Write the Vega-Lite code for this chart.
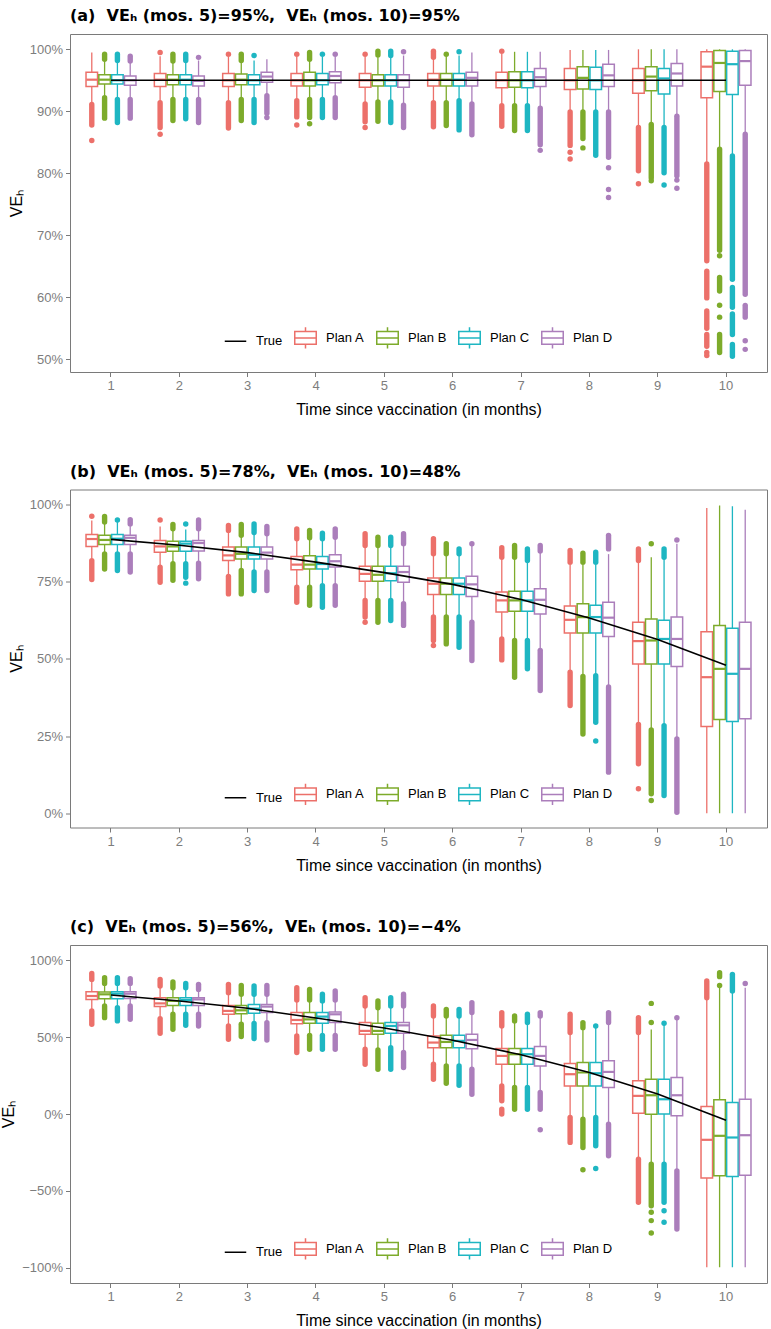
{
"$schema": "https://vega.github.io/schema/vega-lite/v6.json",
"padding": {"left": 0, "top": 7, "right": 5, "bottom": 0},
"spacing": 44.5,
"datasets": {
"boxes": [
{"p":"a","m":1,"s":"Plan A","lo":91.3,"q1":94.0,"md":95.1,"q3":96.3,"hi":99.5},
{"p":"a","m":1,"s":"Plan B","lo":92.3,"q1":94.4,"md":95.1,"q3":95.9,"hi":98.3},
{"p":"a","m":1,"s":"Plan C","lo":92.0,"q1":94.4,"md":95.0,"q3":95.9,"hi":98.1},
{"p":"a","m":1,"s":"Plan D","lo":92.0,"q1":94.2,"md":95.0,"q3":95.7,"hi":98.0},
{"p":"a","m":2,"s":"Plan A","lo":91.5,"q1":94.0,"md":95.1,"q3":96.1,"hi":98.9},
{"p":"a","m":2,"s":"Plan B","lo":92.0,"q1":94.3,"md":95.1,"q3":95.9,"hi":98.0},
{"p":"a","m":2,"s":"Plan C","lo":92.0,"q1":94.3,"md":95.1,"q3":95.9,"hi":98.0},
{"p":"a","m":2,"s":"Plan D","lo":92.0,"q1":94.1,"md":94.9,"q3":95.7,"hi":98.2},
{"p":"a","m":3,"s":"Plan A","lo":91.5,"q1":94.0,"md":95.0,"q3":96.1,"hi":98.8},
{"p":"a","m":3,"s":"Plan B","lo":92.0,"q1":94.3,"md":95.1,"q3":96.0,"hi":98.1},
{"p":"a","m":3,"s":"Plan C","lo":92.0,"q1":94.3,"md":95.0,"q3":95.9,"hi":98.2},
{"p":"a","m":3,"s":"Plan D","lo":92.6,"q1":94.7,"md":95.6,"q3":96.3,"hi":98.4},
{"p":"a","m":4,"s":"Plan A","lo":91.8,"q1":94.1,"md":95.0,"q3":96.1,"hi":98.8},
{"p":"a","m":4,"s":"Plan B","lo":92.0,"q1":94.1,"md":95.0,"q3":96.3,"hi":98.3},
{"p":"a","m":4,"s":"Plan C","lo":92.0,"q1":94.3,"md":95.0,"q3":96.1,"hi":98.8},
{"p":"a","m":4,"s":"Plan D","lo":92.3,"q1":94.6,"md":95.7,"q3":96.4,"hi":98.8},
{"p":"a","m":5,"s":"Plan A","lo":91.4,"q1":93.9,"md":95.0,"q3":96.1,"hi":98.8},
{"p":"a","m":5,"s":"Plan B","lo":91.7,"q1":94.1,"md":95.0,"q3":95.9,"hi":99.0},
{"p":"a","m":5,"s":"Plan C","lo":91.7,"q1":94.1,"md":95.0,"q3":95.9,"hi":99.0},
{"p":"a","m":5,"s":"Plan D","lo":91.1,"q1":93.9,"md":95.0,"q3":95.9,"hi":99.0},
{"p":"a","m":6,"s":"Plan A","lo":91.5,"q1":94.1,"md":95.1,"q3":96.1,"hi":98.6},
{"p":"a","m":6,"s":"Plan B","lo":91.5,"q1":94.1,"md":95.1,"q3":96.1,"hi":98.9},
{"p":"a","m":6,"s":"Plan C","lo":91.8,"q1":94.1,"md":95.1,"q3":96.1,"hi":99.0},
{"p":"a","m":6,"s":"Plan D","lo":91.3,"q1":94.1,"md":95.4,"q3":96.3,"hi":99.5},
{"p":"a","m":7,"s":"Plan A","lo":91.0,"q1":93.8,"md":95.0,"q3":96.3,"hi":99.3},
{"p":"a","m":7,"s":"Plan B","lo":91.0,"q1":93.9,"md":95.0,"q3":96.4,"hi":99.6},
{"p":"a","m":7,"s":"Plan C","lo":91.0,"q1":93.8,"md":95.0,"q3":96.4,"hi":99.6},
{"p":"a","m":7,"s":"Plan D","lo":90.6,"q1":94.0,"md":95.5,"q3":96.9,"hi":99.6},
{"p":"a","m":8,"s":"Plan A","lo":90.0,"q1":93.5,"md":95.0,"q3":96.9,"hi":99.9},
{"p":"a","m":8,"s":"Plan B","lo":90.0,"q1":93.6,"md":95.4,"q3":97.2,"hi":99.9},
{"p":"a","m":8,"s":"Plan C","lo":90.0,"q1":93.5,"md":95.0,"q3":97.1,"hi":99.9},
{"p":"a","m":8,"s":"Plan D","lo":90.0,"q1":94.0,"md":95.8,"q3":97.6,"hi":99.9},
{"p":"a","m":9,"s":"Plan A","lo":87.5,"q1":92.9,"md":95.0,"q3":96.9,"hi":100},
{"p":"a","m":9,"s":"Plan B","lo":88.0,"q1":93.3,"md":95.6,"q3":97.2,"hi":100},
{"p":"a","m":9,"s":"Plan C","lo":87.5,"q1":92.8,"md":95.3,"q3":96.9,"hi":100},
{"p":"a","m":9,"s":"Plan D","lo":89.3,"q1":94.1,"md":96.1,"q3":97.7,"hi":100},
{"p":"a","m":10,"s":"Plan A","lo":81.6,"q1":92.2,"md":97.2,"q3":99.6,"hi":100},
{"p":"a","m":10,"s":"Plan B","lo":84.0,"q1":93.2,"md":97.8,"q3":99.8,"hi":100},
{"p":"a","m":10,"s":"Plan C","lo":82.9,"q1":92.7,"md":97.6,"q3":99.7,"hi":100},
{"p":"a","m":10,"s":"Plan D","lo":86.4,"q1":94.2,"md":98.1,"q3":99.8,"hi":100},
{"p":"b","m":1,"s":"Plan A","lo":82.5,"q1":86.5,"md":88.9,"q3":90.4,"hi":94.9},
{"p":"b","m":1,"s":"Plan B","lo":84.5,"q1":87.1,"md":88.6,"q3":90.1,"hi":93.9},
{"p":"b","m":1,"s":"Plan C","lo":84.5,"q1":87.1,"md":89.0,"q3":90.4,"hi":94.5},
{"p":"b","m":1,"s":"Plan D","lo":84.5,"q1":87.1,"md":89.3,"q3":90.1,"hi":93.5},
{"p":"b","m":2,"s":"Plan A","lo":80.3,"q1":84.6,"md":86.5,"q3":88.4,"hi":93.0},
{"p":"b","m":2,"s":"Plan B","lo":81.4,"q1":84.9,"md":86.5,"q3":88.2,"hi":91.8},
{"p":"b","m":2,"s":"Plan C","lo":81.4,"q1":84.9,"md":87.4,"q3":88.2,"hi":92.0},
{"p":"b","m":2,"s":"Plan D","lo":81.6,"q1":85.0,"md":87.6,"q3":88.4,"hi":91.8},
{"p":"b","m":3,"s":"Plan A","lo":77.3,"q1":81.9,"md":83.6,"q3":86.3,"hi":91.3},
{"p":"b","m":3,"s":"Plan B","lo":79.2,"q1":82.4,"md":84.1,"q3":86.3,"hi":89.7},
{"p":"b","m":3,"s":"Plan C","lo":78.7,"q1":82.4,"md":83.8,"q3":86.3,"hi":90.5},
{"p":"b","m":3,"s":"Plan D","lo":78.7,"q1":82.4,"md":84.5,"q3":86.3,"hi":90.2},
{"p":"b","m":4,"s":"Plan A","lo":73.8,"q1":78.9,"md":80.6,"q3":83.2,"hi":88.6},
{"p":"b","m":4,"s":"Plan B","lo":73.8,"q1":79.2,"md":80.6,"q3":83.5,"hi":88.9},
{"p":"b","m":4,"s":"Plan C","lo":74.3,"q1":79.2,"md":80.8,"q3":83.2,"hi":88.6},
{"p":"b","m":4,"s":"Plan D","lo":74.3,"q1":79.8,"md":81.7,"q3":83.8,"hi":89.1},
{"p":"b","m":5,"s":"Plan A","lo":69.5,"q1":75.2,"md":77.6,"q3":80.1,"hi":86.4},
{"p":"b","m":5,"s":"Plan B","lo":69.5,"q1":75.2,"md":77.3,"q3":80.1,"hi":86.4},
{"p":"b","m":5,"s":"Plan C","lo":69.5,"q1":75.4,"md":77.8,"q3":80.1,"hi":86.4},
{"p":"b","m":5,"s":"Plan D","lo":68.4,"q1":74.9,"md":78.2,"q3":80.1,"hi":87.0},
{"p":"b","m":6,"s":"Plan A","lo":64.1,"q1":70.9,"md":74.4,"q3":76.3,"hi":83.7},
{"p":"b","m":6,"s":"Plan B","lo":64.1,"q1":70.9,"md":74.4,"q3":76.3,"hi":83.7},
{"p":"b","m":6,"s":"Plan C","lo":64.1,"q1":70.9,"md":74.4,"q3":76.3,"hi":83.7},
{"p":"b","m":6,"s":"Plan D","lo":62.4,"q1":70.3,"md":74.2,"q3":76.8,"hi":86.9},
{"p":"b","m":7,"s":"Plan A","lo":57.0,"q1":65.2,"md":69.0,"q3":71.7,"hi":82.6},
{"p":"b","m":7,"s":"Plan B","lo":56.5,"q1":65.5,"md":69.0,"q3":72.0,"hi":82.6},
{"p":"b","m":7,"s":"Plan C","lo":56.5,"q1":65.5,"md":69.0,"q3":72.0,"hi":81.5},
{"p":"b","m":7,"s":"Plan D","lo":53.3,"q1":64.6,"md":69.2,"q3":72.8,"hi":84.5},
{"p":"b","m":8,"s":"Plan A","lo":46.2,"q1":58.4,"md":62.7,"q3":67.2,"hi":81.0},
{"p":"b","m":8,"s":"Plan B","lo":44.8,"q1":58.4,"md":63.6,"q3":67.9,"hi":81.0},
{"p":"b","m":8,"s":"Plan C","lo":45.1,"q1":58.4,"md":63.6,"q3":67.4,"hi":81.0},
{"p":"b","m":8,"s":"Plan D","lo":41.4,"q1":57.3,"md":63.4,"q3":68.4,"hi":84.0},
{"p":"b","m":9,"s":"Plan A","lo":29.3,"q1":48.4,"md":55.8,"q3":61.9,"hi":81.5},
{"p":"b","m":9,"s":"Plan B","lo":27.5,"q1":48.4,"md":56.0,"q3":63.0,"hi":83.0},
{"p":"b","m":9,"s":"Plan C","lo":28.9,"q1":48.4,"md":56.5,"q3":62.6,"hi":82.5},
{"p":"b","m":9,"s":"Plan D","lo":24.6,"q1":47.6,"md":56.5,"q3":63.6,"hi":87.4},
{"p":"b","m":10,"s":"Plan A","lo":0,"q1":28.1,"md":44.1,"q3":58.8,"hi":99.0},
{"p":"b","m":10,"s":"Plan B","lo":0,"q1":30.4,"md":46.8,"q3":60.9,"hi":99.8},
{"p":"b","m":10,"s":"Plan C","lo":0,"q1":29.7,"md":45.2,"q3":60.0,"hi":99.5},
{"p":"b","m":10,"s":"Plan D","lo":0,"q1":30.6,"md":46.8,"q3":61.9,"hi":98.4},
{"p":"c","m":1,"s":"Plan A","lo":68.0,"q1":74.6,"md":76.8,"q3":79.6,"hi":86.5},
{"p":"c","m":1,"s":"Plan B","lo":71.3,"q1":75.0,"md":77.9,"q3":79.4,"hi":84.0},
{"p":"c","m":1,"s":"Plan C","lo":70.2,"q1":75.0,"md":78.3,"q3":79.6,"hi":84.0},
{"p":"c","m":1,"s":"Plan D","lo":71.3,"q1":75.2,"md":78.3,"q3":79.6,"hi":84.0},
{"p":"c","m":2,"s":"Plan A","lo":63.0,"q1":69.9,"md":72.0,"q3":75.7,"hi":82.3},
{"p":"c","m":2,"s":"Plan B","lo":65.9,"q1":70.7,"md":73.6,"q3":75.7,"hi":81.2},
{"p":"c","m":2,"s":"Plan C","lo":65.9,"q1":70.7,"md":74.2,"q3":75.7,"hi":81.2},
{"p":"c","m":2,"s":"Plan D","lo":65.9,"q1":70.7,"md":74.6,"q3":75.7,"hi":80.1},
{"p":"c","m":3,"s":"Plan A","lo":58.3,"q1":64.9,"md":67.1,"q3":70.7,"hi":78.0},
{"p":"c","m":3,"s":"Plan B","lo":59.4,"q1":65.3,"md":67.5,"q3":70.7,"hi":76.9},
{"p":"c","m":3,"s":"Plan C","lo":60.0,"q1":65.5,"md":68.6,"q3":71.3,"hi":76.9},
{"p":"c","m":3,"s":"Plan D","lo":60.5,"q1":66.0,"md":69.9,"q3":71.3,"hi":76.9},
{"p":"c","m":4,"s":"Plan A","lo":51.8,"q1":58.8,"md":61.2,"q3":66.0,"hi":73.2},
{"p":"c","m":4,"s":"Plan B","lo":52.2,"q1":59.0,"md":61.6,"q3":66.0,"hi":73.2},
{"p":"c","m":4,"s":"Plan C","lo":52.2,"q1":59.0,"md":63.4,"q3":66.0,"hi":72.6},
{"p":"c","m":4,"s":"Plan D","lo":52.2,"q1":59.5,"md":64.9,"q3":66.4,"hi":73.2},
{"p":"c","m":5,"s":"Plan A","lo":43.1,"q1":51.9,"md":54.1,"q3":59.5,"hi":69.3},
{"p":"c","m":5,"s":"Plan B","lo":42.7,"q1":51.9,"md":54.1,"q3":59.0,"hi":68.2},
{"p":"c","m":5,"s":"Plan C","lo":44.2,"q1":52.5,"md":57.3,"q3":59.5,"hi":69.3},
{"p":"c","m":5,"s":"Plan D","lo":41.0,"q1":52.5,"md":57.7,"q3":59.5,"hi":69.3},
{"p":"c","m":6,"s":"Plan A","lo":33.4,"q1":43.2,"md":46.5,"q3":50.8,"hi":62.8},
{"p":"c","m":6,"s":"Plan B","lo":32.3,"q1":43.2,"md":46.9,"q3":51.2,"hi":62.8},
{"p":"c","m":6,"s":"Plan C","lo":32.3,"q1":43.2,"md":47.6,"q3":51.2,"hi":62.8},
{"p":"c","m":6,"s":"Plan D","lo":30.1,"q1":42.5,"md":48.2,"q3":51.9,"hi":65.0},
{"p":"c","m":7,"s":"Plan A","lo":19.3,"q1":32.4,"md":37.8,"q3":42.6,"hi":56.3},
{"p":"c","m":7,"s":"Plan B","lo":18.2,"q1":32.4,"md":38.9,"q3":42.6,"hi":59.6},
{"p":"c","m":7,"s":"Plan C","lo":18.2,"q1":32.4,"md":38.9,"q3":42.6,"hi":58.5},
{"p":"c","m":7,"s":"Plan D","lo":15.0,"q1":31.3,"md":37.8,"q3":43.9,"hi":63.8},
{"p":"c","m":8,"s":"Plan A","lo":-1.3,"q1":18.3,"md":25.9,"q3":32.8,"hi":52.0},
{"p":"c","m":8,"s":"Plan B","lo":-2.4,"q1":18.3,"md":27.0,"q3":33.5,"hi":55.2},
{"p":"c","m":8,"s":"Plan C","lo":-1.3,"q1":18.3,"md":26.5,"q3":33.5,"hi":56.3},
{"p":"c","m":8,"s":"Plan D","lo":-5.6,"q1":17.2,"md":27.4,"q3":34.6,"hi":58.5},
{"p":"c","m":9,"s":"Plan A","lo":-28.4,"q1":0.5,"md":11.8,"q3":21.6,"hi":52.0},
{"p":"c","m":9,"s":"Plan B","lo":-31.6,"q1":-0.1,"md":12.2,"q3":22.6,"hi":55.0},
{"p":"c","m":9,"s":"Plan C","lo":-31.6,"q1":0.0,"md":9.6,"q3":22.6,"hi":58.0},
{"p":"c","m":9,"s":"Plan D","lo":-36.0,"q1":-1.2,"md":12.2,"q3":23.7,"hi":61.7},
{"p":"c","m":10,"s":"Plan A","lo":-99.8,"q1":-41.7,"md":-16.8,"q3":4.9,"hi":74.7},
{"p":"c","m":10,"s":"Plan B","lo":-99.8,"q1":-40.2,"md":-14.2,"q3":9.2,"hi":83.0},
{"p":"c","m":10,"s":"Plan C","lo":-99.8,"q1":-40.6,"md":-15.3,"q3":7.5,"hi":79.5},
{"p":"c","m":10,"s":"Plan D","lo":-99.8,"q1":-39.8,"md":-13.8,"q3":9.6,"hi":82.2}
],
"streaks": [
{"p":"a","m":1,"s":"Plan A","y1":91.1,"y2":87.8},
{"p":"a","m":1,"s":"Plan B","y1":99.2,"y2":98.4},{"p":"a","m":1,"s":"Plan B","y1":92.2,"y2":88.9},
{"p":"a","m":1,"s":"Plan C","y1":99.2,"y2":98.2},{"p":"a","m":1,"s":"Plan C","y1":91.9,"y2":88.2},
{"p":"a","m":1,"s":"Plan D","y1":98.9,"y2":98.1},{"p":"a","m":1,"s":"Plan D","y1":91.9,"y2":88.9},
{"p":"a","m":2,"s":"Plan A","y1":91.4,"y2":87.4},
{"p":"a","m":2,"s":"Plan B","y1":99.2,"y2":98.1},{"p":"a","m":2,"s":"Plan B","y1":91.9,"y2":88.5},
{"p":"a","m":2,"s":"Plan C","y1":99.2,"y2":98.2},{"p":"a","m":2,"s":"Plan C","y1":91.9,"y2":88.8},
{"p":"a","m":2,"s":"Plan D","y1":91.9,"y2":88.2},
{"p":"a","m":3,"s":"Plan A","y1":91.4,"y2":87.3},
{"p":"a","m":3,"s":"Plan B","y1":99.2,"y2":98.2},{"p":"a","m":3,"s":"Plan B","y1":91.9,"y2":88.5},
{"p":"a","m":3,"s":"Plan C","y1":91.9,"y2":88.2},
{"p":"a","m":3,"s":"Plan D","y1":92.5,"y2":89.7},
{"p":"a","m":4,"s":"Plan A","y1":91.7,"y2":89.1},
{"p":"a","m":4,"s":"Plan B","y1":99.5,"y2":98.4},{"p":"a","m":4,"s":"Plan B","y1":91.9,"y2":89.0},
{"p":"a","m":4,"s":"Plan C","y1":91.9,"y2":89.0},
{"p":"a","m":4,"s":"Plan D","y1":92.2,"y2":89.0},
{"p":"a","m":5,"s":"Plan A","y1":91.2,"y2":88.3},
{"p":"a","m":5,"s":"Plan B","y1":99.7,"y2":99.1},{"p":"a","m":5,"s":"Plan B","y1":91.5,"y2":88.4},
{"p":"a","m":5,"s":"Plan C","y1":99.7,"y2":99.0},{"p":"a","m":5,"s":"Plan C","y1":91.5,"y2":88.2},
{"p":"a","m":5,"s":"Plan D","y1":91.0,"y2":87.4},
{"p":"a","m":6,"s":"Plan A","y1":99.7,"y2":98.7},{"p":"a","m":6,"s":"Plan A","y1":91.4,"y2":87.5},
{"p":"a","m":6,"s":"Plan B","y1":91.4,"y2":87.7},
{"p":"a","m":6,"s":"Plan C","y1":91.7,"y2":87.0},
{"p":"a","m":6,"s":"Plan D","y1":91.2,"y2":86.2},
{"p":"a","m":7,"s":"Plan A","y1":90.9,"y2":87.6},
{"p":"a","m":7,"s":"Plan B","y1":90.9,"y2":86.9},
{"p":"a","m":7,"s":"Plan C","y1":90.9,"y2":86.9},
{"p":"a","m":7,"s":"Plan D","y1":90.5,"y2":84.6},
{"p":"a","m":8,"s":"Plan A","y1":89.9,"y2":84.5},
{"p":"a","m":8,"s":"Plan B","y1":89.9,"y2":85.6},
{"p":"a","m":8,"s":"Plan C","y1":89.9,"y2":82.9},
{"p":"a","m":8,"s":"Plan D","y1":89.9,"y2":82.6},
{"p":"a","m":9,"s":"Plan A","y1":87.4,"y2":80.4},
{"p":"a","m":9,"s":"Plan B","y1":87.9,"y2":79.3},
{"p":"a","m":9,"s":"Plan C","y1":87.4,"y2":80.1},
{"p":"a","m":9,"s":"Plan D","y1":89.2,"y2":79.6},
{"p":"a","m":10,"s":"Plan A","y1":81.5,"y2":65.9},{"p":"a","m":10,"s":"Plan A","y1":64.2,"y2":59.9},{"p":"a","m":10,"s":"Plan A","y1":57.8,"y2":55.0},{"p":"a","m":10,"s":"Plan A","y1":54.0,"y2":52.1},
{"p":"a","m":10,"s":"Plan B","y1":83.9,"y2":67.6},{"p":"a","m":10,"s":"Plan B","y1":63.2,"y2":61.0},{"p":"a","m":10,"s":"Plan B","y1":54.0,"y2":51.1},
{"p":"a","m":10,"s":"Plan C","y1":82.8,"y2":62.9},{"p":"a","m":10,"s":"Plan C","y1":61.6,"y2":58.4},{"p":"a","m":10,"s":"Plan C","y1":57.3,"y2":54.0},{"p":"a","m":10,"s":"Plan C","y1":52.4,"y2":50.5},
{"p":"a","m":10,"s":"Plan D","y1":86.3,"y2":60.5},{"p":"a","m":10,"s":"Plan D","y1":58.7,"y2":56.8},
{"p":"b","m":1,"s":"Plan A","y1":81.9,"y2":75.8},
{"p":"b","m":1,"s":"Plan B","y1":96.2,"y2":94.4},{"p":"b","m":1,"s":"Plan B","y1":84.1,"y2":79.2},
{"p":"b","m":1,"s":"Plan C","y1":84.1,"y2":78.7},
{"p":"b","m":1,"s":"Plan D","y1":95.2,"y2":93.8},{"p":"b","m":1,"s":"Plan D","y1":84.1,"y2":78.2},
{"p":"b","m":2,"s":"Plan A","y1":79.8,"y2":74.9},
{"p":"b","m":2,"s":"Plan B","y1":93.6,"y2":92.2},{"p":"b","m":2,"s":"Plan B","y1":80.9,"y2":75.5},
{"p":"b","m":2,"s":"Plan C","y1":80.9,"y2":76.5},
{"p":"b","m":2,"s":"Plan D","y1":95.1,"y2":92.2},{"p":"b","m":2,"s":"Plan D","y1":81.1,"y2":76.0},
{"p":"b","m":3,"s":"Plan A","y1":93.3,"y2":91.7},{"p":"b","m":3,"s":"Plan A","y1":76.8,"y2":71.1},
{"p":"b","m":3,"s":"Plan B","y1":93.6,"y2":90.1},{"p":"b","m":3,"s":"Plan B","y1":78.7,"y2":71.1},
{"p":"b","m":3,"s":"Plan C","y1":93.8,"y2":91.0},{"p":"b","m":3,"s":"Plan C","y1":78.2,"y2":72.2},
{"p":"b","m":3,"s":"Plan D","y1":93.0,"y2":90.6},{"p":"b","m":3,"s":"Plan D","y1":78.2,"y2":72.2},
{"p":"b","m":4,"s":"Plan A","y1":92.2,"y2":89.0},{"p":"b","m":4,"s":"Plan A","y1":73.3,"y2":68.4},
{"p":"b","m":4,"s":"Plan B","y1":91.7,"y2":89.3},{"p":"b","m":4,"s":"Plan B","y1":73.3,"y2":67.4},
{"p":"b","m":4,"s":"Plan C","y1":90.8,"y2":89.0},{"p":"b","m":4,"s":"Plan C","y1":73.8,"y2":66.8},
{"p":"b","m":4,"s":"Plan D","y1":92.2,"y2":89.5},{"p":"b","m":4,"s":"Plan D","y1":73.8,"y2":67.4},
{"p":"b","m":5,"s":"Plan A","y1":90.6,"y2":86.8},{"p":"b","m":5,"s":"Plan A","y1":69.0,"y2":63.6},
{"p":"b","m":5,"s":"Plan B","y1":89.5,"y2":86.8},{"p":"b","m":5,"s":"Plan B","y1":69.0,"y2":61.9},
{"p":"b","m":5,"s":"Plan C","y1":89.5,"y2":86.8},{"p":"b","m":5,"s":"Plan C","y1":69.0,"y2":62.5},
{"p":"b","m":5,"s":"Plan D","y1":90.6,"y2":87.4},{"p":"b","m":5,"s":"Plan D","y1":67.9,"y2":60.9},
{"p":"b","m":6,"s":"Plan A","y1":89.0,"y2":84.1},{"p":"b","m":6,"s":"Plan A","y1":63.6,"y2":56.0},
{"p":"b","m":6,"s":"Plan B","y1":87.4,"y2":84.1},{"p":"b","m":6,"s":"Plan B","y1":63.6,"y2":54.9},
{"p":"b","m":6,"s":"Plan C","y1":85.7,"y2":84.1},{"p":"b","m":6,"s":"Plan C","y1":63.6,"y2":53.8},
{"p":"b","m":6,"s":"Plan D","y1":61.9,"y2":49.5},
{"p":"b","m":7,"s":"Plan A","y1":86.1,"y2":83.0},{"p":"b","m":7,"s":"Plan A","y1":56.5,"y2":49.7},
{"p":"b","m":7,"s":"Plan B","y1":86.8,"y2":83.0},{"p":"b","m":7,"s":"Plan B","y1":56.0,"y2":44.1},
{"p":"b","m":7,"s":"Plan C","y1":85.7,"y2":81.9},{"p":"b","m":7,"s":"Plan C","y1":56.0,"y2":46.8},
{"p":"b","m":7,"s":"Plan D","y1":86.8,"y2":85.0},{"p":"b","m":7,"s":"Plan D","y1":52.8,"y2":39.8},
{"p":"b","m":8,"s":"Plan A","y1":85.2,"y2":81.4},{"p":"b","m":8,"s":"Plan A","y1":45.7,"y2":34.9},
{"p":"b","m":8,"s":"Plan B","y1":84.3,"y2":81.4},{"p":"b","m":8,"s":"Plan B","y1":44.3,"y2":25.7},
{"p":"b","m":8,"s":"Plan C","y1":84.6,"y2":81.4},{"p":"b","m":8,"s":"Plan C","y1":44.6,"y2":29.5},
{"p":"b","m":8,"s":"Plan D","y1":90.1,"y2":85.7},{"p":"b","m":8,"s":"Plan D","y1":40.9,"y2":13.3},
{"p":"b","m":9,"s":"Plan A","y1":85.7,"y2":81.9},{"p":"b","m":9,"s":"Plan A","y1":28.8,"y2":16.0},
{"p":"b","m":9,"s":"Plan B","y1":27.0,"y2":6.3},
{"p":"b","m":9,"s":"Plan C","y1":85.7,"y2":83.0},{"p":"b","m":9,"s":"Plan C","y1":28.4,"y2":5.7},
{"p":"b","m":9,"s":"Plan D","y1":24.1,"y2":0.3},
{"p":"c","m":1,"s":"Plan A","y1":91.5,"y2":87.6},{"p":"c","m":1,"s":"Plan A","y1":67.1,"y2":58.4},
{"p":"c","m":1,"s":"Plan B","y1":88.7,"y2":85.0},{"p":"c","m":1,"s":"Plan B","y1":70.3,"y2":62.7},
{"p":"c","m":1,"s":"Plan C","y1":88.7,"y2":85.0},{"p":"c","m":1,"s":"Plan C","y1":69.2,"y2":60.6},
{"p":"c","m":1,"s":"Plan D","y1":88.1,"y2":85.0},{"p":"c","m":1,"s":"Plan D","y1":70.3,"y2":61.6},
{"p":"c","m":2,"s":"Plan A","y1":87.6,"y2":83.3},{"p":"c","m":2,"s":"Plan A","y1":62.1,"y2":52.5},
{"p":"c","m":2,"s":"Plan B","y1":85.9,"y2":82.2},{"p":"c","m":2,"s":"Plan B","y1":64.9,"y2":55.1},
{"p":"c","m":2,"s":"Plan C","y1":85.0,"y2":82.2},{"p":"c","m":2,"s":"Plan C","y1":64.9,"y2":57.7},
{"p":"c","m":2,"s":"Plan D","y1":84.4,"y2":81.1},{"p":"c","m":2,"s":"Plan D","y1":64.9,"y2":57.3},
{"p":"c","m":3,"s":"Plan A","y1":84.4,"y2":79.0},{"p":"c","m":3,"s":"Plan A","y1":57.3,"y2":48.6},
{"p":"c","m":3,"s":"Plan B","y1":83.7,"y2":77.9},{"p":"c","m":3,"s":"Plan B","y1":58.4,"y2":50.4},
{"p":"c","m":3,"s":"Plan C","y1":83.3,"y2":77.9},{"p":"c","m":3,"s":"Plan C","y1":59.0,"y2":49.1},
{"p":"c","m":3,"s":"Plan D","y1":83.7,"y2":77.9},{"p":"c","m":3,"s":"Plan D","y1":59.5,"y2":48.2},
{"p":"c","m":4,"s":"Plan A","y1":82.2,"y2":74.2},{"p":"c","m":4,"s":"Plan A","y1":50.8,"y2":40.0},
{"p":"c","m":4,"s":"Plan B","y1":81.1,"y2":74.2},{"p":"c","m":4,"s":"Plan B","y1":51.2,"y2":42.1},
{"p":"c","m":4,"s":"Plan C","y1":77.9,"y2":73.6},{"p":"c","m":4,"s":"Plan C","y1":51.2,"y2":42.1},
{"p":"c","m":4,"s":"Plan D","y1":80.1,"y2":74.2},{"p":"c","m":4,"s":"Plan D","y1":51.2,"y2":42.1},
{"p":"c","m":5,"s":"Plan A","y1":75.7,"y2":70.3},{"p":"c","m":5,"s":"Plan A","y1":42.1,"y2":32.4},
{"p":"c","m":5,"s":"Plan B","y1":73.6,"y2":69.2},{"p":"c","m":5,"s":"Plan B","y1":41.7,"y2":29.1},
{"p":"c","m":5,"s":"Plan C","y1":75.7,"y2":70.3},{"p":"c","m":5,"s":"Plan C","y1":43.2,"y2":29.1},
{"p":"c","m":5,"s":"Plan D","y1":77.9,"y2":70.3},{"p":"c","m":5,"s":"Plan D","y1":40.0,"y2":30.2},
{"p":"c","m":6,"s":"Plan A","y1":70.3,"y2":63.8},{"p":"c","m":6,"s":"Plan A","y1":32.4,"y2":22.6},
{"p":"c","m":6,"s":"Plan B","y1":68.1,"y2":63.8},{"p":"c","m":6,"s":"Plan B","y1":31.3,"y2":20.0},
{"p":"c","m":6,"s":"Plan C","y1":68.1,"y2":63.8},{"p":"c","m":6,"s":"Plan C","y1":31.3,"y2":18.7},
{"p":"c","m":6,"s":"Plan D","y1":72.4,"y2":66.0},{"p":"c","m":6,"s":"Plan D","y1":29.1,"y2":12.8},
{"p":"c","m":7,"s":"Plan A","y1":66.0,"y2":57.3},{"p":"c","m":7,"s":"Plan A","y1":18.3,"y2":8.6},{"p":"c","m":7,"s":"Plan A","y1":3.2,"y2":0.0},
{"p":"c","m":7,"s":"Plan B","y1":63.8,"y2":60.6},{"p":"c","m":7,"s":"Plan B","y1":17.2,"y2":3.1},
{"p":"c","m":7,"s":"Plan C","y1":64.9,"y2":59.5},{"p":"c","m":7,"s":"Plan C","y1":17.2,"y2":3.1},
{"p":"c","m":7,"s":"Plan D","y1":66.0,"y2":63.8},{"p":"c","m":7,"s":"Plan D","y1":14.0,"y2":3.1},
{"p":"c","m":8,"s":"Plan A","y1":64.9,"y2":53.0},{"p":"c","m":8,"s":"Plan A","y1":-2.3,"y2":-18.5},
{"p":"c","m":8,"s":"Plan B","y1":59.5,"y2":56.2},{"p":"c","m":8,"s":"Plan B","y1":-3.4,"y2":-21.8},
{"p":"c","m":8,"s":"Plan C","y1":-2.3,"y2":-20.7},
{"p":"c","m":8,"s":"Plan D","y1":66.0,"y2":59.5},{"p":"c","m":8,"s":"Plan D","y1":-6.6,"y2":-27.2},
{"p":"c","m":9,"s":"Plan A","y1":62.7,"y2":53.0},{"p":"c","m":9,"s":"Plan A","y1":-29.4,"y2":-57.5},
{"p":"c","m":9,"s":"Plan B","y1":-32.6,"y2":-59.7},
{"p":"c","m":9,"s":"Plan C","y1":-32.6,"y2":-57.5},
{"p":"c","m":9,"s":"Plan D","y1":-37.0,"y2":-74.9},
{"p":"c","m":10,"s":"Plan A","y1":86.6,"y2":75.7},
{"p":"c","m":10,"s":"Plan B","y1":92.0,"y2":89.4},
{"p":"c","m":10,"s":"Plan C","y1":90.9,"y2":80.1}
],
"pts": [
{"p":"a","m":1,"s":"Plan A","y":85.3},
{"p":"a","m":2,"s":"Plan A","y":99.5},{"p":"a","m":2,"s":"Plan A","y":86.3},
{"p":"a","m":2,"s":"Plan D","y":98.7},
{"p":"a","m":3,"s":"Plan A","y":99.2},{"p":"a","m":3,"s":"Plan C","y":99.0},{"p":"a","m":3,"s":"Plan D","y":89.0},
{"p":"a","m":4,"s":"Plan A","y":99.2},{"p":"a","m":4,"s":"Plan A","y":87.8},{"p":"a","m":4,"s":"Plan B","y":88.0},
{"p":"a","m":4,"s":"Plan C","y":99.2},{"p":"a","m":4,"s":"Plan D","y":99.2},
{"p":"a","m":5,"s":"Plan A","y":99.2},{"p":"a","m":5,"s":"Plan A","y":87.4},{"p":"a","m":5,"s":"Plan D","y":99.6},
{"p":"a","m":6,"s":"Plan B","y":99.2},{"p":"a","m":6,"s":"Plan C","y":99.6},
{"p":"a","m":7,"s":"Plan A","y":99.7},{"p":"a","m":7,"s":"Plan D","y":83.7},
{"p":"a","m":8,"s":"Plan A","y":83.4},{"p":"a","m":8,"s":"Plan A","y":82.3},{"p":"a","m":8,"s":"Plan B","y":84.1},
{"p":"a","m":8,"s":"Plan D","y":80.9},{"p":"a","m":8,"s":"Plan D","y":77.4},{"p":"a","m":8,"s":"Plan D","y":76.1},
{"p":"a","m":9,"s":"Plan A","y":78.3},{"p":"a","m":9,"s":"Plan B","y":78.8},{"p":"a","m":9,"s":"Plan C","y":78.1},
{"p":"a","m":9,"s":"Plan D","y":78.9},{"p":"a","m":9,"s":"Plan D","y":77.6},
{"p":"a","m":10,"s":"Plan A","y":51.1},{"p":"a","m":10,"s":"Plan A","y":50.6},
{"p":"a","m":10,"s":"Plan B","y":66.7},{"p":"a","m":10,"s":"Plan B","y":58.7},{"p":"a","m":10,"s":"Plan B","y":56.8},
{"p":"a","m":10,"s":"Plan D","y":53.0},{"p":"a","m":10,"s":"Plan D","y":51.6},
{"p":"b","m":1,"s":"Plan A","y":96.3},{"p":"b","m":1,"s":"Plan C","y":95.1},
{"p":"b","m":2,"s":"Plan A","y":95.1},{"p":"b","m":2,"s":"Plan C","y":93.8},{"p":"b","m":2,"s":"Plan C","y":74.6},
{"p":"b","m":5,"s":"Plan A","y":61.9},{"p":"b","m":6,"s":"Plan A","y":54.4},{"p":"b","m":6,"s":"Plan D","y":87.4},
{"p":"b","m":8,"s":"Plan C","y":23.4},{"p":"b","m":9,"s":"Plan A","y":7.9},
{"p":"b","m":9,"s":"Plan B","y":87.4},{"p":"b","m":9,"s":"Plan B","y":4.1},{"p":"b","m":9,"s":"Plan D","y":88.6},
{"p":"c","m":7,"s":"Plan D","y":-10.3},
{"p":"c","m":8,"s":"Plan B","y":-36.3},{"p":"c","m":8,"s":"Plan C","y":57.3},{"p":"c","m":8,"s":"Plan C","y":-35.4},
{"p":"c","m":9,"s":"Plan B","y":72.0},{"p":"c","m":9,"s":"Plan B","y":59.5},{"p":"c","m":9,"s":"Plan B","y":-64.0},{"p":"c","m":9,"s":"Plan B","y":-69.4},{"p":"c","m":9,"s":"Plan B","y":-77.5},
{"p":"c","m":9,"s":"Plan C","y":59.0},{"p":"c","m":9,"s":"Plan C","y":-62.9},{"p":"c","m":9,"s":"Plan C","y":-70.5},
{"p":"c","m":9,"s":"Plan D","y":62.7},
{"p":"c","m":10,"s":"Plan B","y":83.7},{"p":"c","m":10,"s":"Plan D","y":85.0}
],
"truth": [
{"p":"a","m":1,"s":"True","v":95},{"p":"a","m":2,"s":"True","v":95},{"p":"a","m":3,"s":"True","v":95},{"p":"a","m":4,"s":"True","v":95},{"p":"a","m":5,"s":"True","v":95},
{"p":"a","m":6,"s":"True","v":95},{"p":"a","m":7,"s":"True","v":95},{"p":"a","m":8,"s":"True","v":95},{"p":"a","m":9,"s":"True","v":95},{"p":"a","m":10,"s":"True","v":95},
{"p":"b","m":1,"s":"True","v":88.8},{"p":"b","m":2,"s":"True","v":86.9},{"p":"b","m":3,"s":"True","v":84.5},{"p":"b","m":4,"s":"True","v":81.4},{"p":"b","m":5,"s":"True","v":78},
{"p":"b","m":6,"s":"True","v":74.2},{"p":"b","m":7,"s":"True","v":69.3},{"p":"b","m":8,"s":"True","v":63.3},{"p":"b","m":9,"s":"True","v":56.3},{"p":"b","m":10,"s":"True","v":48},
{"p":"c","m":1,"s":"True","v":77.5},{"p":"c","m":2,"s":"True","v":73.6},{"p":"c","m":3,"s":"True","v":68.8},{"p":"c","m":4,"s":"True","v":62.5},{"p":"c","m":5,"s":"True","v":56},
{"p":"c","m":6,"s":"True","v":48},{"p":"c","m":7,"s":"True","v":38.6},{"p":"c","m":8,"s":"True","v":27},{"p":"c","m":9,"s":"True","v":13},{"p":"c","m":10,"s":"True","v":-4}
]
},
"config": {
"view": {"stroke": "#7a7a7a", "strokeWidth": 1},
"axis": {"grid": false, "domain": false, "tickColor": "#7a7a7a", "tickSize": 4.5, "tickWidth": 1, "labelColor": "#7d7d7d", "labelFont": "Liberation Sans", "labelFontSize": 13, "labelPadding": 3, "titleFont": "Liberation Sans", "titleFontSize": 16, "titleFontWeight": "normal", "titleColor": "#000000"},
"axisX": {"titlePadding": 9},
"axisY": {"titlePadding": 5},
"title": {"font": "DejaVu Sans", "fontSize": 16, "fontWeight": "bold", "anchor": "start", "frame": "group", "color": "#000000", "offset": 10},
"legend": {"orient": "none", "direction": "horizontal", "symbolSize": 462, "symbolStrokeWidth": 1.5, "labelFont": "Liberation Sans", "labelFontSize": 13, "labelColor": "#000000", "labelOffset": 9, "columnPadding": 8, "padding": 0}
},
"resolve": {"scale": {"x": "independent", "y": "independent", "stroke": "independent", "color": "independent"}, "legend": {"stroke": "independent", "color": "independent"}},
"vconcat": [
{
"title": {"text": "(a)\u00a0 VEₕ (mos. 5)=95%,\u00a0 VEₕ (mos. 10)=95%"},
"width": 697, "height": 338,
"encoding": {"x": {"field": "m", "type": "ordinal", "scale": {"domain": [1,2,3,4,5,6,7,8,9,10], "paddingInner": 0.25, "paddingOuter": 0.225}, "axis": {"labelAngle": 0}, "title": "Time since vaccination (in months)"}},
"layer": [
{"data": {"name": "boxes"}, "transform": [{"filter": "datum.p === 'a'"}], "mark": {"type": "rule", "strokeWidth": 1.3},
 "encoding": {"xOffset": {"field": "s", "type": "nominal", "scale": {"domain": ["Plan A","Plan B","Plan C","Plan D"], "paddingInner": 0.1, "paddingOuter": 0.05}},
  "y": {"field": "lo", "type": "quantitative", "scale": {"domain": [47.95, 102.47], "nice": false, "zero": false}, "axis": {"values": [50,60,70,80,90,100], "labelExpr": "replace(datum.value + '%', '-', '−')"}, "title": "VEₕ"},
  "y2": {"field": "hi"},
  "stroke": {"field": "s", "type": "nominal", "scale": {"domain": ["True","Plan A","Plan B","Plan C","Plan D"], "range": ["#000000","#EC706A","#7DAB2B","#1EB6C2","#AB7EBB"]},
   "legend": {"title": null, "legendX": 154, "legendY": 292, "encode": {"symbols": {"update": {"shape": {"signal": "datum.value === 'True' ? 'M-1,0H1' : 'M-1,-0.6H1V0.6H-1Z M-1,0H1 M0,-0.6V-1 M0,0.6V1'"}, "fill": {"value": "transparent"}}}}}}}},
{"data": {"name": "boxes"}, "transform": [{"filter": "datum.p === 'a'"}], "mark": {"type": "bar", "fill": "white", "strokeWidth": 1.5},
 "encoding": {"xOffset": {"field": "s", "type": "nominal", "scale": {"domain": ["Plan A","Plan B","Plan C","Plan D"], "paddingInner": 0.1, "paddingOuter": 0.05}},
  "y": {"field": "q1", "type": "quantitative", "scale": {"domain": [47.95, 102.47], "nice": false, "zero": false}, "title": "VEₕ"},
  "y2": {"field": "q3"},
  "stroke": {"field": "s", "type": "nominal", "scale": {"domain": ["True","Plan A","Plan B","Plan C","Plan D"], "range": ["#000000","#EC706A","#7DAB2B","#1EB6C2","#AB7EBB"]}}}},
{"data": {"name": "boxes"}, "transform": [{"filter": "datum.p === 'a'"}], "mark": {"type": "tick", "thickness": 2.2, "size": 11, "opacity": 1},
 "encoding": {"xOffset": {"field": "s", "type": "nominal", "scale": {"domain": ["Plan A","Plan B","Plan C","Plan D"], "paddingInner": 0.1, "paddingOuter": 0.05}},
  "y": {"field": "md", "type": "quantitative", "scale": {"domain": [47.95, 102.47], "nice": false, "zero": false}, "title": "VEₕ"},
  "color": {"field": "s", "type": "nominal", "scale": {"domain": ["Plan A","Plan B","Plan C","Plan D"], "range": ["#EC706A","#7DAB2B","#1EB6C2","#AB7EBB"]}, "legend": null}}},
{"data": {"name": "streaks"}, "transform": [{"filter": "datum.p === 'a'"}], "mark": {"type": "rule", "strokeWidth": 5.4, "strokeCap": "round"},
 "encoding": {"xOffset": {"field": "s", "type": "nominal", "scale": {"domain": ["Plan A","Plan B","Plan C","Plan D"], "paddingInner": 0.1, "paddingOuter": 0.05}},
  "y": {"field": "y1", "type": "quantitative", "scale": {"domain": [47.95, 102.47], "nice": false, "zero": false}, "title": "VEₕ"},
  "y2": {"field": "y2"},
  "stroke": {"field": "s", "type": "nominal", "scale": {"domain": ["True","Plan A","Plan B","Plan C","Plan D"], "range": ["#000000","#EC706A","#7DAB2B","#1EB6C2","#AB7EBB"]}}}},
{"data": {"name": "pts"}, "transform": [{"filter": "datum.p === 'a'"}], "mark": {"type": "point", "filled": true, "size": 30, "opacity": 1},
 "encoding": {"xOffset": {"field": "s", "type": "nominal", "scale": {"domain": ["Plan A","Plan B","Plan C","Plan D"], "paddingInner": 0.1, "paddingOuter": 0.05}},
  "y": {"field": "y", "type": "quantitative", "scale": {"domain": [47.95, 102.47], "nice": false, "zero": false}, "title": "VEₕ"},
  "color": {"field": "s", "type": "nominal", "scale": {"domain": ["Plan A","Plan B","Plan C","Plan D"], "range": ["#EC706A","#7DAB2B","#1EB6C2","#AB7EBB"]}, "legend": null}}},
{"data": {"name": "truth"}, "transform": [{"filter": "datum.p === 'a'"}], "mark": {"type": "line", "strokeWidth": 1.6},
 "encoding": {
  "y": {"field": "v", "type": "quantitative", "scale": {"domain": [47.95, 102.47], "nice": false, "zero": false}, "title": "VEₕ"},
  "stroke": {"field": "s", "type": "nominal", "scale": {"domain": ["True","Plan A","Plan B","Plan C","Plan D"], "range": ["#000000","#EC706A","#7DAB2B","#1EB6C2","#AB7EBB"]}}}}
]
},
{
"title": {"text": "(b)\u00a0 VEₕ (mos. 5)=78%,\u00a0 VEₕ (mos. 10)=48%"},
"width": 697, "height": 338,
"encoding": {"x": {"field": "m", "type": "ordinal", "scale": {"domain": [1,2,3,4,5,6,7,8,9,10], "paddingInner": 0.25, "paddingOuter": 0.225}, "axis": {"labelAngle": 0}, "title": "Time since vaccination (in months)"}},
"layer": [
{"data": {"name": "boxes"}, "transform": [{"filter": "datum.p === 'b'"}], "mark": {"type": "rule", "strokeWidth": 1.3},
 "encoding": {"xOffset": {"field": "s", "type": "nominal", "scale": {"domain": ["Plan A","Plan B","Plan C","Plan D"], "paddingInner": 0.1, "paddingOuter": 0.05}},
  "y": {"field": "lo", "type": "quantitative", "scale": {"domain": [-4.64, 104.96], "nice": false, "zero": false}, "axis": {"values": [0,25,50,75,100], "labelExpr": "replace(datum.value + '%', '-', '−')"}, "title": "VEₕ"},
  "y2": {"field": "hi"},
  "stroke": {"field": "s", "type": "nominal", "scale": {"domain": ["True","Plan A","Plan B","Plan C","Plan D"], "range": ["#000000","#EC706A","#7DAB2B","#1EB6C2","#AB7EBB"]},
   "legend": {"title": null, "legendX": 154, "legendY": 293, "encode": {"symbols": {"update": {"shape": {"signal": "datum.value === 'True' ? 'M-1,0H1' : 'M-1,-0.6H1V0.6H-1Z M-1,0H1 M0,-0.6V-1 M0,0.6V1'"}, "fill": {"value": "transparent"}}}}}}}},
{"data": {"name": "boxes"}, "transform": [{"filter": "datum.p === 'b'"}], "mark": {"type": "bar", "fill": "white", "strokeWidth": 1.5},
 "encoding": {"xOffset": {"field": "s", "type": "nominal", "scale": {"domain": ["Plan A","Plan B","Plan C","Plan D"], "paddingInner": 0.1, "paddingOuter": 0.05}},
  "y": {"field": "q1", "type": "quantitative", "scale": {"domain": [-4.64, 104.96], "nice": false, "zero": false}, "title": "VEₕ"},
  "y2": {"field": "q3"},
  "stroke": {"field": "s", "type": "nominal", "scale": {"domain": ["True","Plan A","Plan B","Plan C","Plan D"], "range": ["#000000","#EC706A","#7DAB2B","#1EB6C2","#AB7EBB"]}}}},
{"data": {"name": "boxes"}, "transform": [{"filter": "datum.p === 'b'"}], "mark": {"type": "tick", "thickness": 2.2, "size": 11, "opacity": 1},
 "encoding": {"xOffset": {"field": "s", "type": "nominal", "scale": {"domain": ["Plan A","Plan B","Plan C","Plan D"], "paddingInner": 0.1, "paddingOuter": 0.05}},
  "y": {"field": "md", "type": "quantitative", "scale": {"domain": [-4.64, 104.96], "nice": false, "zero": false}, "title": "VEₕ"},
  "color": {"field": "s", "type": "nominal", "scale": {"domain": ["Plan A","Plan B","Plan C","Plan D"], "range": ["#EC706A","#7DAB2B","#1EB6C2","#AB7EBB"]}, "legend": null}}},
{"data": {"name": "streaks"}, "transform": [{"filter": "datum.p === 'b'"}], "mark": {"type": "rule", "strokeWidth": 5.4, "strokeCap": "round"},
 "encoding": {"xOffset": {"field": "s", "type": "nominal", "scale": {"domain": ["Plan A","Plan B","Plan C","Plan D"], "paddingInner": 0.1, "paddingOuter": 0.05}},
  "y": {"field": "y1", "type": "quantitative", "scale": {"domain": [-4.64, 104.96], "nice": false, "zero": false}, "title": "VEₕ"},
  "y2": {"field": "y2"},
  "stroke": {"field": "s", "type": "nominal", "scale": {"domain": ["True","Plan A","Plan B","Plan C","Plan D"], "range": ["#000000","#EC706A","#7DAB2B","#1EB6C2","#AB7EBB"]}}}},
{"data": {"name": "pts"}, "transform": [{"filter": "datum.p === 'b'"}], "mark": {"type": "point", "filled": true, "size": 30, "opacity": 1},
 "encoding": {"xOffset": {"field": "s", "type": "nominal", "scale": {"domain": ["Plan A","Plan B","Plan C","Plan D"], "paddingInner": 0.1, "paddingOuter": 0.05}},
  "y": {"field": "y", "type": "quantitative", "scale": {"domain": [-4.64, 104.96], "nice": false, "zero": false}, "title": "VEₕ"},
  "color": {"field": "s", "type": "nominal", "scale": {"domain": ["Plan A","Plan B","Plan C","Plan D"], "range": ["#EC706A","#7DAB2B","#1EB6C2","#AB7EBB"]}, "legend": null}}},
{"data": {"name": "truth"}, "transform": [{"filter": "datum.p === 'b'"}], "mark": {"type": "line", "strokeWidth": 1.6},
 "encoding": {
  "y": {"field": "v", "type": "quantitative", "scale": {"domain": [-4.64, 104.96], "nice": false, "zero": false}, "title": "VEₕ"},
  "stroke": {"field": "s", "type": "nominal", "scale": {"domain": ["True","Plan A","Plan B","Plan C","Plan D"], "range": ["#000000","#EC706A","#7DAB2B","#1EB6C2","#AB7EBB"]}}}}
]
},
{
"title": {"text": "(c)\u00a0 VEₕ (mos. 5)=56%,\u00a0 VEₕ (mos. 10)=−4%"},
"width": 697, "height": 338,
"encoding": {"x": {"field": "m", "type": "ordinal", "scale": {"domain": [1,2,3,4,5,6,7,8,9,10], "paddingInner": 0.25, "paddingOuter": 0.225}, "axis": {"labelAngle": 0}, "title": "Time since vaccination (in months)"}},
"layer": [
{"data": {"name": "boxes"}, "transform": [{"filter": "datum.p === 'c'"}], "mark": {"type": "rule", "strokeWidth": 1.3},
 "encoding": {"xOffset": {"field": "s", "type": "nominal", "scale": {"domain": ["Plan A","Plan B","Plan C","Plan D"], "paddingInner": 0.1, "paddingOuter": 0.05}},
  "y": {"field": "lo", "type": "quantitative", "scale": {"domain": [-110, 110], "nice": false, "zero": false}, "axis": {"values": [-100,-50,0,50,100], "labelExpr": "replace(datum.value + '%', '-', '−')"}, "title": "VEₕ"},
  "y2": {"field": "hi"},
  "stroke": {"field": "s", "type": "nominal", "scale": {"domain": ["True","Plan A","Plan B","Plan C","Plan D"], "range": ["#000000","#EC706A","#7DAB2B","#1EB6C2","#AB7EBB"]},
   "legend": {"title": null, "legendX": 154, "legendY": 292, "encode": {"symbols": {"update": {"shape": {"signal": "datum.value === 'True' ? 'M-1,0H1' : 'M-1,-0.6H1V0.6H-1Z M-1,0H1 M0,-0.6V-1 M0,0.6V1'"}, "fill": {"value": "transparent"}}}}}}}},
{"data": {"name": "boxes"}, "transform": [{"filter": "datum.p === 'c'"}], "mark": {"type": "bar", "fill": "white", "strokeWidth": 1.5},
 "encoding": {"xOffset": {"field": "s", "type": "nominal", "scale": {"domain": ["Plan A","Plan B","Plan C","Plan D"], "paddingInner": 0.1, "paddingOuter": 0.05}},
  "y": {"field": "q1", "type": "quantitative", "scale": {"domain": [-110, 110], "nice": false, "zero": false}, "title": "VEₕ"},
  "y2": {"field": "q3"},
  "stroke": {"field": "s", "type": "nominal", "scale": {"domain": ["True","Plan A","Plan B","Plan C","Plan D"], "range": ["#000000","#EC706A","#7DAB2B","#1EB6C2","#AB7EBB"]}}}},
{"data": {"name": "boxes"}, "transform": [{"filter": "datum.p === 'c'"}], "mark": {"type": "tick", "thickness": 2.2, "size": 11, "opacity": 1},
 "encoding": {"xOffset": {"field": "s", "type": "nominal", "scale": {"domain": ["Plan A","Plan B","Plan C","Plan D"], "paddingInner": 0.1, "paddingOuter": 0.05}},
  "y": {"field": "md", "type": "quantitative", "scale": {"domain": [-110, 110], "nice": false, "zero": false}, "title": "VEₕ"},
  "color": {"field": "s", "type": "nominal", "scale": {"domain": ["Plan A","Plan B","Plan C","Plan D"], "range": ["#EC706A","#7DAB2B","#1EB6C2","#AB7EBB"]}, "legend": null}}},
{"data": {"name": "streaks"}, "transform": [{"filter": "datum.p === 'c'"}], "mark": {"type": "rule", "strokeWidth": 5.4, "strokeCap": "round"},
 "encoding": {"xOffset": {"field": "s", "type": "nominal", "scale": {"domain": ["Plan A","Plan B","Plan C","Plan D"], "paddingInner": 0.1, "paddingOuter": 0.05}},
  "y": {"field": "y1", "type": "quantitative", "scale": {"domain": [-110, 110], "nice": false, "zero": false}, "title": "VEₕ"},
  "y2": {"field": "y2"},
  "stroke": {"field": "s", "type": "nominal", "scale": {"domain": ["True","Plan A","Plan B","Plan C","Plan D"], "range": ["#000000","#EC706A","#7DAB2B","#1EB6C2","#AB7EBB"]}}}},
{"data": {"name": "pts"}, "transform": [{"filter": "datum.p === 'c'"}], "mark": {"type": "point", "filled": true, "size": 30, "opacity": 1},
 "encoding": {"xOffset": {"field": "s", "type": "nominal", "scale": {"domain": ["Plan A","Plan B","Plan C","Plan D"], "paddingInner": 0.1, "paddingOuter": 0.05}},
  "y": {"field": "y", "type": "quantitative", "scale": {"domain": [-110, 110], "nice": false, "zero": false}, "title": "VEₕ"},
  "color": {"field": "s", "type": "nominal", "scale": {"domain": ["Plan A","Plan B","Plan C","Plan D"], "range": ["#EC706A","#7DAB2B","#1EB6C2","#AB7EBB"]}, "legend": null}}},
{"data": {"name": "truth"}, "transform": [{"filter": "datum.p === 'c'"}], "mark": {"type": "line", "strokeWidth": 1.6},
 "encoding": {
  "y": {"field": "v", "type": "quantitative", "scale": {"domain": [-110, 110], "nice": false, "zero": false}, "title": "VEₕ"},
  "stroke": {"field": "s", "type": "nominal", "scale": {"domain": ["True","Plan A","Plan B","Plan C","Plan D"], "range": ["#000000","#EC706A","#7DAB2B","#1EB6C2","#AB7EBB"]}}}}
]
}
]
}
